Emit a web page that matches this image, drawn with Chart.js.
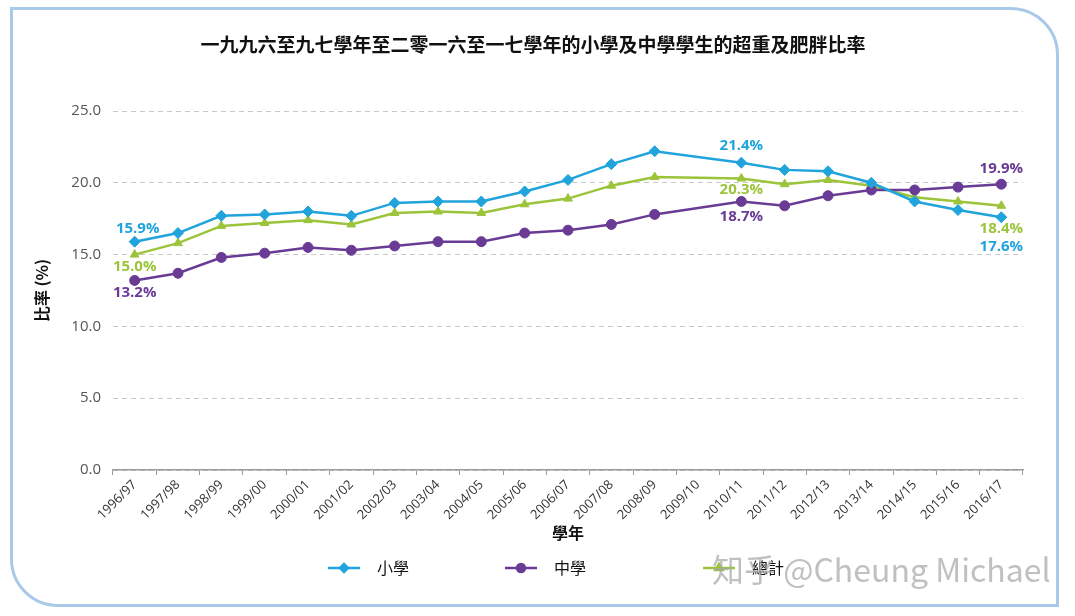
<!DOCTYPE html>
<html>
<head>
<meta charset="utf-8">
<script src="https://cdn.jsdelivr.net/npm/chart.js@4"></script>
<style>
html, body { margin: 0; padding: 0; background: #fff; }
#wrap { position: relative; width: 1075px; height: 616px; overflow: hidden; }
#frame { position: absolute; left: 10px; top: 7px; width: 1043px; height: 594px;
  border: 3px solid #a8cae8; border-radius: 0 48px 0 48px; }
#chart { position: absolute; left: 0; top: 0; }
#mark { position: absolute; left: 712px; top: 545px; font: 32px "Noto Sans CJK SC", sans-serif;
  color: rgba(165, 165, 165, 0.7); white-space: nowrap; pointer-events: none; }
</style>
</head>
<body>
<div id="wrap">
  <div id="frame"></div>
  <canvas id="chart" width="1075" height="616"></canvas>
  <div id="mark">知乎 @Cheung Michael</div>
</div>
<script>
const years = ["1996/97", "1997/98", "1998/99", "1999/00", "2000/01", "2001/02", "2002/03",
  "2003/04", "2004/05", "2005/06", "2006/07", "2007/08", "2008/09", "2009/10",
  "2010/11", "2011/12", "2012/13", "2013/14", "2014/15", "2015/16", "2016/17"];

// 2009/10 has no survey figure, the lines jump over it
const primary = [15.9, 16.5, 17.7, 17.8, 18.0, 17.7, 18.6, 18.7, 18.7, 19.4, 20.2,
  21.3, 22.2, null, 21.4, 20.9, 20.8, 20.0, 18.7, 18.1, 17.6];
const secondary = [13.2, 13.7, 14.8, 15.1, 15.5, 15.3, 15.6, 15.9, 15.9, 16.5, 16.7,
  17.1, 17.8, null, 18.7, 18.4, 19.1, 19.5, 19.5, 19.7, 19.9];
const overall = [15.0, 15.8, 17.0, 17.2, 17.4, 17.1, 17.9, 18.0, 17.9, 18.5, 18.9,
  19.8, 20.4, null, 20.3, 19.9, 20.2, 19.8, 19.0, 18.7, 18.4];

const yTicks = [0, 5, 10, 15, 20, 25];
const seriesNames = ["小學", "中學", "總計"];

const colors = ["#21a3dc", "#6a3b95", "#9cc43a"];
const shapes = ["rectRot", "circle", "triangle"];

// which points get a value label, and where it sits relative to the point
const callouts = [
  { ds: 0, i: 0, dx: 3, dy: -13 },
  { ds: 2, i: 0, dx: 0, dy: 12 },
  { ds: 1, i: 0, dx: 0, dy: 12 },
  { ds: 0, i: 14, dx: 0, dy: -17 },
  { ds: 2, i: 14, dx: 0, dy: 11 },
  { ds: 1, i: 14, dx: 0, dy: 15 },
  { ds: 1, i: 20, dx: 0, dy: -16 },
  { ds: 2, i: 20, dx: 0, dy: 23 },
  { ds: 0, i: 20, dx: 0, dy: 29 },
];

const decorations = {
  id: "decorations",
  afterDraw(chart) {
    const ctx = chart.ctx;
    ctx.save();

    // title
    ctx.fillStyle = "#111";
    ctx.font = "bold 19px 'Noto Sans CJK TC', sans-serif";
    ctx.textAlign = "center";
    ctx.textBaseline = "middle";
    ctx.fillText("一九九六至九七學年至二零一六至一七學年的小學及中學學生的超重及肥胖比率", 533, 45);

    // value labels
    ctx.font = "bold 15px 'Open Sans', sans-serif";
    callouts.forEach(c => {
      const pt = chart.getDatasetMeta(c.ds).data[c.i];
      const v = chart.data.datasets[c.ds].data[c.i];
      ctx.fillStyle = colors[c.ds];
      ctx.fillText(v.toFixed(1) + "%", pt.x + c.dx, pt.y + c.dy);
    });

    // legend: line with marker, then name
    const legendX = [328, 505, 703];
    const legendY = 568;
    chart.data.datasets.forEach((ds, k) => {
      const x0 = legendX[k];
      ctx.strokeStyle = colors[k];
      ctx.lineWidth = 2.5;
      ctx.beginPath();
      ctx.moveTo(x0, legendY);
      ctx.lineTo(x0 + 32, legendY);
      ctx.stroke();
      ctx.fillStyle = colors[k];
      Chart.helpers.drawPoint(ctx, { pointStyle: shapes[k], radius: 4, borderWidth: 1 }, x0 + 16, legendY);
      ctx.fillStyle = "#111";
      ctx.textAlign = "left";
      ctx.font = "16px 'Noto Sans CJK TC', sans-serif";
      ctx.fillText(ds.label, x0 + 49, legendY);
    });
    ctx.restore();
  }
};

const makeSet = (k, values) => ({
  label: seriesNames[k],
  data: values,
  borderColor: colors[k],
  backgroundColor: colors[k],
  borderWidth: 2.5,
  pointStyle: shapes[k],
  pointRadius: k === 0 ? 5.5 : 5,
  pointBorderWidth: 1,
  tension: 0,
  spanGaps: true,
});

new Chart(document.getElementById("chart"), {
  type: "line",
  data: {
    labels: years,
    datasets: [makeSet(0, primary), makeSet(1, secondary), makeSet(2, overall)],
  },
  options: {
    responsive: false,
    animation: false,
    layout: { padding: { left: 28, right: 52, top: 111, bottom: 67 } },
    plugins: { legend: { display: false }, title: { display: false }, tooltip: { enabled: false } },
    scales: {
      x: {
        offset: true,
        grid: { display: true, drawOnChartArea: false, drawTicks: true, tickLength: 5, color: "#9a9a9a", offset: true },
        border: { display: true, color: "#9a9a9a", width: 1.5 },
        ticks: {
          autoSkip: false, minRotation: 45, maxRotation: 45, padding: 2,
          color: "#333", font: { family: "'Liberation Sans Narrow', 'Open Sans', sans-serif", size: 13 },
        },
        title: {
          display: true, text: "學年", color: "#111", padding: { top: 0, bottom: 6 },
          font: { family: "'Noto Sans CJK TC', sans-serif", size: 16, weight: "bold" },
        },
        afterFit: s => { s.height = 79; },
      },
      y: {
        min: 0, max: 25,
        afterBuildTicks: s => { s.ticks = yTicks.map(v => ({ value: v })); },
        ticks: {
          padding: 12, color: "#555", callback: v => Number(v).toFixed(1),
          font: { family: "'Open Sans', sans-serif", size: 15 },
        },
        grid: { color: "#c9c9c9", drawTicks: false, lineWidth: 1 },
        border: { display: false, dash: [5, 4] },
        title: {
          display: true, text: "比率 (%)", color: "#111", padding: { top: 4, bottom: 4 },
          font: { family: "'Noto Sans CJK TC', sans-serif", size: 16, weight: "bold" },
        },
        afterFit: s => { s.width = 85; },
      },
    },
  },
  plugins: [decorations],
});
</script>
</body>
</html>
